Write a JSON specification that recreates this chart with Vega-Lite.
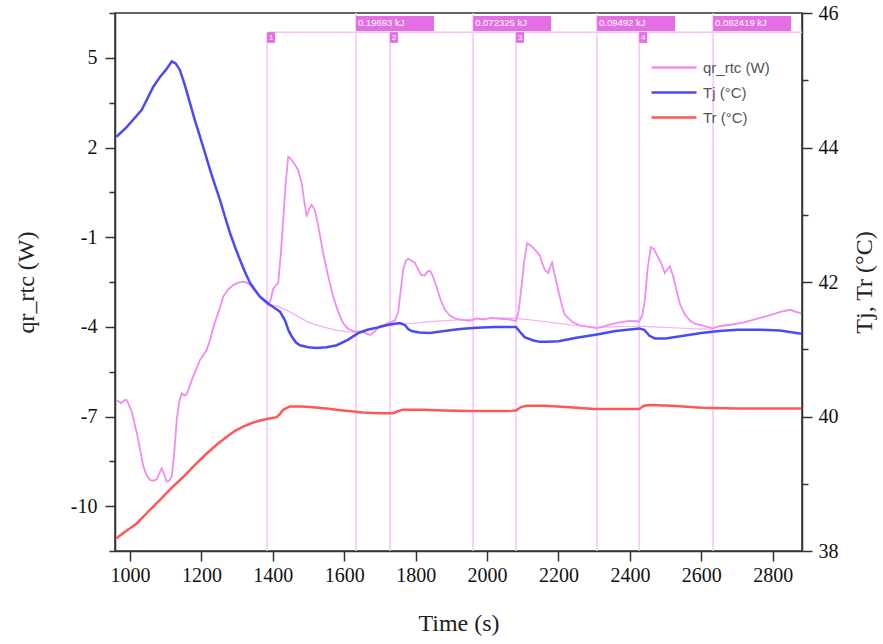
{
  "$schema": "https://vega.github.io/schema/vega-lite/v6.json",
  "width": 687,
  "height": 538,
  "autosize": {"type": "none"},
  "padding": {"left": 115, "top": 13, "right": 81, "bottom": 93},
  "background": "white",
  "config": {
    "view": {"stroke": "#333", "strokeWidth": 1.5},
    "axis": {
      "grid": false,
      "domainColor": "#333",
      "domainWidth": 1.5,
      "tickColor": "#333",
      "tickWidth": 1.5,
      "labelFont": "Liberation Serif",
      "labelFontSize": 20,
      "labelColor": "#111",
      "titleFont": "Liberation Serif",
      "titleFontWeight": "normal",
      "titleFontSize": 24,
      "titleColor": "#222"
    }
  },
  "datasets": {
    "qr": [
      {"t": 962, "v": -6.45, "s": "qr_rtc (W)"}, {"t": 975, "v": -6.55, "s": "qr_rtc (W)"}, {"t": 985, "v": -6.45, "s": "qr_rtc (W)"},
      {"t": 991, "v": -6.45, "s": "qr_rtc (W)"}, {"t": 1000, "v": -6.7, "s": "qr_rtc (W)"}, {"t": 1005, "v": -6.85, "s": "qr_rtc (W)"},
      {"t": 1012, "v": -7.2, "s": "qr_rtc (W)"}, {"t": 1019, "v": -7.55, "s": "qr_rtc (W)"}, {"t": 1028, "v": -8.1, "s": "qr_rtc (W)"},
      {"t": 1037, "v": -8.65, "s": "qr_rtc (W)"}, {"t": 1046, "v": -8.95, "s": "qr_rtc (W)"}, {"t": 1056, "v": -9.12, "s": "qr_rtc (W)"},
      {"t": 1066, "v": -9.15, "s": "qr_rtc (W)"}, {"t": 1075, "v": -9.1, "s": "qr_rtc (W)"}, {"t": 1082, "v": -8.9, "s": "qr_rtc (W)"},
      {"t": 1089, "v": -8.73, "s": "qr_rtc (W)"}, {"t": 1096, "v": -8.95, "s": "qr_rtc (W)"}, {"t": 1103, "v": -9.18, "s": "qr_rtc (W)"},
      {"t": 1110, "v": -9.15, "s": "qr_rtc (W)"}, {"t": 1117, "v": -9.0, "s": "qr_rtc (W)"}, {"t": 1124, "v": -8.2, "s": "qr_rtc (W)"},
      {"t": 1131, "v": -7.1, "s": "qr_rtc (W)"}, {"t": 1138, "v": -6.5, "s": "qr_rtc (W)"}, {"t": 1145, "v": -6.22, "s": "qr_rtc (W)"},
      {"t": 1152, "v": -6.3, "s": "qr_rtc (W)"}, {"t": 1159, "v": -6.25, "s": "qr_rtc (W)"}, {"t": 1168, "v": -5.95, "s": "qr_rtc (W)"},
      {"t": 1177, "v": -5.66, "s": "qr_rtc (W)"}, {"t": 1186, "v": -5.4, "s": "qr_rtc (W)"}, {"t": 1196, "v": -5.11, "s": "qr_rtc (W)"},
      {"t": 1205, "v": -4.95, "s": "qr_rtc (W)"}, {"t": 1215, "v": -4.77, "s": "qr_rtc (W)"}, {"t": 1225, "v": -4.4, "s": "qr_rtc (W)"},
      {"t": 1234, "v": -3.99, "s": "qr_rtc (W)"}, {"t": 1248, "v": -3.5, "s": "qr_rtc (W)"}, {"t": 1261, "v": -2.99, "s": "qr_rtc (W)"},
      {"t": 1275, "v": -2.75, "s": "qr_rtc (W)"}, {"t": 1289, "v": -2.6, "s": "qr_rtc (W)"}, {"t": 1303, "v": -2.52, "s": "qr_rtc (W)"},
      {"t": 1317, "v": -2.49, "s": "qr_rtc (W)"}, {"t": 1327, "v": -2.52, "s": "qr_rtc (W)"}, {"t": 1336, "v": -2.6, "s": "qr_rtc (W)"},
      {"t": 1350, "v": -2.8, "s": "qr_rtc (W)"}, {"t": 1364, "v": -2.99, "s": "qr_rtc (W)"}, {"t": 1376, "v": -3.15, "s": "qr_rtc (W)"},
      {"t": 1387, "v": -3.27, "s": "qr_rtc (W)"}, {"t": 1395, "v": -3.05, "s": "qr_rtc (W)"}, {"t": 1401, "v": -2.72, "s": "qr_rtc (W)"},
      {"t": 1408, "v": -2.62, "s": "qr_rtc (W)"}, {"t": 1415, "v": -2.54, "s": "qr_rtc (W)"}, {"t": 1422, "v": -1.6, "s": "qr_rtc (W)"},
      {"t": 1429, "v": -0.42, "s": "qr_rtc (W)"}, {"t": 1436, "v": 0.8, "s": "qr_rtc (W)"}, {"t": 1443, "v": 1.69, "s": "qr_rtc (W)"},
      {"t": 1448, "v": 1.65, "s": "qr_rtc (W)"}, {"t": 1453, "v": 1.58, "s": "qr_rtc (W)"}, {"t": 1462, "v": 1.42, "s": "qr_rtc (W)"},
      {"t": 1471, "v": 1.25, "s": "qr_rtc (W)"}, {"t": 1481, "v": 0.8, "s": "qr_rtc (W)"}, {"t": 1488, "v": 0.2, "s": "qr_rtc (W)"},
      {"t": 1495, "v": -0.31, "s": "qr_rtc (W)"}, {"t": 1502, "v": -0.05, "s": "qr_rtc (W)"}, {"t": 1509, "v": 0.08, "s": "qr_rtc (W)"},
      {"t": 1518, "v": -0.09, "s": "qr_rtc (W)"}, {"t": 1530, "v": -0.8, "s": "qr_rtc (W)"}, {"t": 1541, "v": -1.54, "s": "qr_rtc (W)"},
      {"t": 1555, "v": -2.3, "s": "qr_rtc (W)"}, {"t": 1569, "v": -2.99, "s": "qr_rtc (W)"}, {"t": 1583, "v": -3.5, "s": "qr_rtc (W)"},
      {"t": 1597, "v": -3.88, "s": "qr_rtc (W)"}, {"t": 1612, "v": -4.08, "s": "qr_rtc (W)"}, {"t": 1630, "v": -4.16, "s": "qr_rtc (W)"},
      {"t": 1645, "v": -4.15, "s": "qr_rtc (W)"}, {"t": 1658, "v": -4.2, "s": "qr_rtc (W)"}, {"t": 1672, "v": -4.27, "s": "qr_rtc (W)"},
      {"t": 1686, "v": -4.15, "s": "qr_rtc (W)"}, {"t": 1700, "v": -3.97, "s": "qr_rtc (W)"}, {"t": 1720, "v": -3.9, "s": "qr_rtc (W)"},
      {"t": 1742, "v": -3.78, "s": "qr_rtc (W)"}, {"t": 1751, "v": -3.5, "s": "qr_rtc (W)"}, {"t": 1758, "v": -2.8, "s": "qr_rtc (W)"},
      {"t": 1765, "v": -2.1, "s": "qr_rtc (W)"}, {"t": 1772, "v": -1.8, "s": "qr_rtc (W)"}, {"t": 1779, "v": -1.72, "s": "qr_rtc (W)"},
      {"t": 1790, "v": -1.8, "s": "qr_rtc (W)"}, {"t": 1798, "v": -1.86, "s": "qr_rtc (W)"}, {"t": 1808, "v": -2.1, "s": "qr_rtc (W)"},
      {"t": 1815, "v": -2.26, "s": "qr_rtc (W)"}, {"t": 1826, "v": -2.28, "s": "qr_rtc (W)"}, {"t": 1833, "v": -2.15, "s": "qr_rtc (W)"},
      {"t": 1840, "v": -2.12, "s": "qr_rtc (W)"}, {"t": 1848, "v": -2.3, "s": "qr_rtc (W)"}, {"t": 1857, "v": -2.6, "s": "qr_rtc (W)"},
      {"t": 1870, "v": -3.1, "s": "qr_rtc (W)"}, {"t": 1882, "v": -3.43, "s": "qr_rtc (W)"}, {"t": 1896, "v": -3.62, "s": "qr_rtc (W)"},
      {"t": 1910, "v": -3.72, "s": "qr_rtc (W)"}, {"t": 1930, "v": -3.77, "s": "qr_rtc (W)"}, {"t": 1952, "v": -3.8, "s": "qr_rtc (W)"},
      {"t": 1970, "v": -3.72, "s": "qr_rtc (W)"}, {"t": 1990, "v": -3.76, "s": "qr_rtc (W)"}, {"t": 2010, "v": -3.7, "s": "qr_rtc (W)"},
      {"t": 2036, "v": -3.73, "s": "qr_rtc (W)"}, {"t": 2060, "v": -3.75, "s": "qr_rtc (W)"}, {"t": 2081, "v": -3.8, "s": "qr_rtc (W)"},
      {"t": 2088, "v": -3.5, "s": "qr_rtc (W)"}, {"t": 2095, "v": -2.8, "s": "qr_rtc (W)"}, {"t": 2104, "v": -1.8, "s": "qr_rtc (W)"},
      {"t": 2112, "v": -1.2, "s": "qr_rtc (W)"}, {"t": 2120, "v": -1.26, "s": "qr_rtc (W)"}, {"t": 2129, "v": -1.36, "s": "qr_rtc (W)"},
      {"t": 2140, "v": -1.5, "s": "qr_rtc (W)"}, {"t": 2148, "v": -1.62, "s": "qr_rtc (W)"}, {"t": 2155, "v": -1.9, "s": "qr_rtc (W)"},
      {"t": 2162, "v": -2.1, "s": "qr_rtc (W)"}, {"t": 2171, "v": -2.2, "s": "qr_rtc (W)"}, {"t": 2178, "v": -1.95, "s": "qr_rtc (W)"},
      {"t": 2182, "v": -1.85, "s": "qr_rtc (W)"}, {"t": 2190, "v": -2.3, "s": "qr_rtc (W)"}, {"t": 2199, "v": -2.76, "s": "qr_rtc (W)"},
      {"t": 2210, "v": -3.3, "s": "qr_rtc (W)"}, {"t": 2218, "v": -3.6, "s": "qr_rtc (W)"}, {"t": 2240, "v": -3.85, "s": "qr_rtc (W)"},
      {"t": 2260, "v": -3.95, "s": "qr_rtc (W)"}, {"t": 2285, "v": -4.0, "s": "qr_rtc (W)"}, {"t": 2308, "v": -4.04, "s": "qr_rtc (W)"},
      {"t": 2330, "v": -3.98, "s": "qr_rtc (W)"}, {"t": 2344, "v": -3.93, "s": "qr_rtc (W)"}, {"t": 2370, "v": -3.85, "s": "qr_rtc (W)"},
      {"t": 2400, "v": -3.8, "s": "qr_rtc (W)"}, {"t": 2426, "v": -3.82, "s": "qr_rtc (W)"}, {"t": 2435, "v": -3.6, "s": "qr_rtc (W)"},
      {"t": 2442, "v": -3.1, "s": "qr_rtc (W)"}, {"t": 2450, "v": -2.0, "s": "qr_rtc (W)"}, {"t": 2459, "v": -1.33, "s": "qr_rtc (W)"},
      {"t": 2467, "v": -1.4, "s": "qr_rtc (W)"}, {"t": 2476, "v": -1.6, "s": "qr_rtc (W)"}, {"t": 2487, "v": -1.85, "s": "qr_rtc (W)"},
      {"t": 2498, "v": -2.2, "s": "qr_rtc (W)"}, {"t": 2506, "v": -2.05, "s": "qr_rtc (W)"}, {"t": 2512, "v": -1.98, "s": "qr_rtc (W)"},
      {"t": 2521, "v": -2.3, "s": "qr_rtc (W)"}, {"t": 2531, "v": -2.8, "s": "qr_rtc (W)"}, {"t": 2541, "v": -3.27, "s": "qr_rtc (W)"},
      {"t": 2555, "v": -3.6, "s": "qr_rtc (W)"}, {"t": 2569, "v": -3.8, "s": "qr_rtc (W)"}, {"t": 2583, "v": -3.9, "s": "qr_rtc (W)"},
      {"t": 2597, "v": -3.93, "s": "qr_rtc (W)"}, {"t": 2615, "v": -4.0, "s": "qr_rtc (W)"}, {"t": 2633, "v": -4.05, "s": "qr_rtc (W)"},
      {"t": 2650, "v": -3.98, "s": "qr_rtc (W)"}, {"t": 2681, "v": -3.93, "s": "qr_rtc (W)"}, {"t": 2720, "v": -3.85, "s": "qr_rtc (W)"},
      {"t": 2765, "v": -3.7, "s": "qr_rtc (W)"}, {"t": 2800, "v": -3.58, "s": "qr_rtc (W)"}, {"t": 2821, "v": -3.5, "s": "qr_rtc (W)"},
      {"t": 2849, "v": -3.43, "s": "qr_rtc (W)"}, {"t": 2865, "v": -3.5, "s": "qr_rtc (W)"}, {"t": 2880, "v": -3.55, "s": "qr_rtc (W)"}
    ],
    "baseline": [
      {"t": 1384, "v": -3.25}, {"t": 1410, "v": -3.3}, {"t": 1440, "v": -3.45}, {"t": 1470, "v": -3.65},
      {"t": 1500, "v": -3.85}, {"t": 1540, "v": -4.0}, {"t": 1580, "v": -4.12}, {"t": 1610, "v": -4.17},
      {"t": 1633, "v": -4.18}, {"t": 1660, "v": -4.12}, {"t": 1700, "v": -4.0}, {"t": 1742, "v": -3.93},
      {"t": 1790, "v": -3.88}, {"t": 1850, "v": -3.82}, {"t": 1924, "v": -3.77}, {"t": 1980, "v": -3.73},
      {"t": 2040, "v": -3.7}, {"t": 2081, "v": -3.72}, {"t": 2130, "v": -3.78}, {"t": 2180, "v": -3.85},
      {"t": 2230, "v": -3.93}, {"t": 2270, "v": -3.98}, {"t": 2308, "v": -4.02}, {"t": 2350, "v": -4.0},
      {"t": 2400, "v": -3.98}, {"t": 2426, "v": -3.98}, {"t": 2470, "v": -4.0}, {"t": 2520, "v": -4.03},
      {"t": 2570, "v": -4.06}, {"t": 2633, "v": -4.08}
    ],
    "temps": [
      {"t": 962, "T": 44.16, "s": "Tj (°C)"}, {"t": 990, "T": 44.3, "s": "Tj (°C)"}, {"t": 1010, "T": 44.42, "s": "Tj (°C)"},
      {"t": 1033, "T": 44.56, "s": "Tj (°C)"}, {"t": 1047, "T": 44.71, "s": "Tj (°C)"}, {"t": 1065, "T": 44.9, "s": "Tj (°C)"},
      {"t": 1084, "T": 45.05, "s": "Tj (°C)"}, {"t": 1100, "T": 45.15, "s": "Tj (°C)"}, {"t": 1117, "T": 45.28, "s": "Tj (°C)"},
      {"t": 1128, "T": 45.25, "s": "Tj (°C)"}, {"t": 1140, "T": 45.15, "s": "Tj (°C)"}, {"t": 1154, "T": 44.92, "s": "Tj (°C)"},
      {"t": 1168, "T": 44.66, "s": "Tj (°C)"}, {"t": 1182, "T": 44.4, "s": "Tj (°C)"}, {"t": 1196, "T": 44.16, "s": "Tj (°C)"},
      {"t": 1210, "T": 43.92, "s": "Tj (°C)"}, {"t": 1224, "T": 43.67, "s": "Tj (°C)"}, {"t": 1238, "T": 43.44, "s": "Tj (°C)"},
      {"t": 1252, "T": 43.22, "s": "Tj (°C)"}, {"t": 1266, "T": 42.97, "s": "Tj (°C)"}, {"t": 1280, "T": 42.73, "s": "Tj (°C)"},
      {"t": 1294, "T": 42.52, "s": "Tj (°C)"}, {"t": 1308, "T": 42.33, "s": "Tj (°C)"}, {"t": 1322, "T": 42.15, "s": "Tj (°C)"},
      {"t": 1336, "T": 41.99, "s": "Tj (°C)"}, {"t": 1350, "T": 41.88, "s": "Tj (°C)"}, {"t": 1364, "T": 41.78, "s": "Tj (°C)"},
      {"t": 1378, "T": 41.72, "s": "Tj (°C)"}, {"t": 1392, "T": 41.66, "s": "Tj (°C)"}, {"t": 1406, "T": 41.61, "s": "Tj (°C)"},
      {"t": 1420, "T": 41.56, "s": "Tj (°C)"}, {"t": 1434, "T": 41.43, "s": "Tj (°C)"}, {"t": 1444, "T": 41.28, "s": "Tj (°C)"},
      {"t": 1453, "T": 41.19, "s": "Tj (°C)"}, {"t": 1465, "T": 41.1, "s": "Tj (°C)"}, {"t": 1476, "T": 41.06, "s": "Tj (°C)"},
      {"t": 1500, "T": 41.03, "s": "Tj (°C)"}, {"t": 1523, "T": 41.02, "s": "Tj (°C)"}, {"t": 1550, "T": 41.03, "s": "Tj (°C)"},
      {"t": 1579, "T": 41.06, "s": "Tj (°C)"}, {"t": 1610, "T": 41.14, "s": "Tj (°C)"}, {"t": 1639, "T": 41.24, "s": "Tj (°C)"},
      {"t": 1665, "T": 41.29, "s": "Tj (°C)"}, {"t": 1691, "T": 41.32, "s": "Tj (°C)"}, {"t": 1720, "T": 41.36, "s": "Tj (°C)"},
      {"t": 1740, "T": 41.38, "s": "Tj (°C)"}, {"t": 1756, "T": 41.39, "s": "Tj (°C)"}, {"t": 1770, "T": 41.36, "s": "Tj (°C)"},
      {"t": 1779, "T": 41.3, "s": "Tj (°C)"}, {"t": 1789, "T": 41.27, "s": "Tj (°C)"}, {"t": 1810, "T": 41.25, "s": "Tj (°C)"},
      {"t": 1840, "T": 41.24, "s": "Tj (°C)"}, {"t": 1880, "T": 41.27, "s": "Tj (°C)"}, {"t": 1924, "T": 41.3, "s": "Tj (°C)"},
      {"t": 1970, "T": 41.32, "s": "Tj (°C)"}, {"t": 2020, "T": 41.33, "s": "Tj (°C)"}, {"t": 2060, "T": 41.33, "s": "Tj (°C)"},
      {"t": 2081, "T": 41.33, "s": "Tj (°C)"}, {"t": 2092, "T": 41.26, "s": "Tj (°C)"}, {"t": 2105, "T": 41.18, "s": "Tj (°C)"},
      {"t": 2130, "T": 41.13, "s": "Tj (°C)"}, {"t": 2148, "T": 41.11, "s": "Tj (°C)"}, {"t": 2170, "T": 41.11, "s": "Tj (°C)"},
      {"t": 2200, "T": 41.12, "s": "Tj (°C)"}, {"t": 2250, "T": 41.17, "s": "Tj (°C)"}, {"t": 2308, "T": 41.22, "s": "Tj (°C)"},
      {"t": 2360, "T": 41.27, "s": "Tj (°C)"}, {"t": 2426, "T": 41.31, "s": "Tj (°C)"}, {"t": 2440, "T": 41.29, "s": "Tj (°C)"},
      {"t": 2455, "T": 41.2, "s": "Tj (°C)"}, {"t": 2470, "T": 41.16, "s": "Tj (°C)"}, {"t": 2500, "T": 41.16, "s": "Tj (°C)"},
      {"t": 2550, "T": 41.2, "s": "Tj (°C)"}, {"t": 2600, "T": 41.24, "s": "Tj (°C)"}, {"t": 2650, "T": 41.27, "s": "Tj (°C)"},
      {"t": 2700, "T": 41.29, "s": "Tj (°C)"}, {"t": 2765, "T": 41.29, "s": "Tj (°C)"}, {"t": 2820, "T": 41.28, "s": "Tj (°C)"},
      {"t": 2880, "T": 41.23, "s": "Tj (°C)"},
      {"t": 962, "T": 38.19, "s": "Tr (°C)"}, {"t": 990, "T": 38.3, "s": "Tr (°C)"}, {"t": 1019, "T": 38.41, "s": "Tr (°C)"},
      {"t": 1050, "T": 38.58, "s": "Tr (°C)"}, {"t": 1084, "T": 38.76, "s": "Tr (°C)"}, {"t": 1115, "T": 38.93, "s": "Tr (°C)"},
      {"t": 1149, "T": 39.1, "s": "Tr (°C)"}, {"t": 1182, "T": 39.28, "s": "Tr (°C)"}, {"t": 1215, "T": 39.45, "s": "Tr (°C)"},
      {"t": 1245, "T": 39.59, "s": "Tr (°C)"}, {"t": 1271, "T": 39.7, "s": "Tr (°C)"}, {"t": 1295, "T": 39.79, "s": "Tr (°C)"},
      {"t": 1317, "T": 39.85, "s": "Tr (°C)"}, {"t": 1340, "T": 39.9, "s": "Tr (°C)"}, {"t": 1364, "T": 39.94, "s": "Tr (°C)"},
      {"t": 1390, "T": 39.97, "s": "Tr (°C)"}, {"t": 1411, "T": 39.99, "s": "Tr (°C)"}, {"t": 1420, "T": 40.04, "s": "Tr (°C)"},
      {"t": 1429, "T": 40.1, "s": "Tr (°C)"}, {"t": 1448, "T": 40.15, "s": "Tr (°C)"}, {"t": 1480, "T": 40.15, "s": "Tr (°C)"},
      {"t": 1504, "T": 40.14, "s": "Tr (°C)"}, {"t": 1550, "T": 40.12, "s": "Tr (°C)"}, {"t": 1597, "T": 40.09, "s": "Tr (°C)"},
      {"t": 1653, "T": 40.06, "s": "Tr (°C)"}, {"t": 1700, "T": 40.05, "s": "Tr (°C)"}, {"t": 1738, "T": 40.05, "s": "Tr (°C)"},
      {"t": 1750, "T": 40.08, "s": "Tr (°C)"}, {"t": 1765, "T": 40.1, "s": "Tr (°C)"}, {"t": 1820, "T": 40.1, "s": "Tr (°C)"},
      {"t": 1877, "T": 40.09, "s": "Tr (°C)"}, {"t": 1950, "T": 40.08, "s": "Tr (°C)"}, {"t": 2000, "T": 40.08, "s": "Tr (°C)"},
      {"t": 2060, "T": 40.08, "s": "Tr (°C)"}, {"t": 2081, "T": 40.09, "s": "Tr (°C)"}, {"t": 2095, "T": 40.14, "s": "Tr (°C)"},
      {"t": 2110, "T": 40.16, "s": "Tr (°C)"}, {"t": 2160, "T": 40.16, "s": "Tr (°C)"}, {"t": 2220, "T": 40.14, "s": "Tr (°C)"},
      {"t": 2300, "T": 40.11, "s": "Tr (°C)"}, {"t": 2380, "T": 40.11, "s": "Tr (°C)"}, {"t": 2426, "T": 40.11, "s": "Tr (°C)"},
      {"t": 2440, "T": 40.16, "s": "Tr (°C)"}, {"t": 2455, "T": 40.17, "s": "Tr (°C)"}, {"t": 2520, "T": 40.16, "s": "Tr (°C)"},
      {"t": 2600, "T": 40.13, "s": "Tr (°C)"}, {"t": 2700, "T": 40.12, "s": "Tr (°C)"}, {"t": 2800, "T": 40.12, "s": "Tr (°C)"},
      {"t": 2880, "T": 40.12, "s": "Tr (°C)"}
    ],
    "intervals": [
      {"n": "1", "start": 1384, "end": 1633, "kj": "0.19693 kJ"},
      {"n": "2", "start": 1728, "end": 1961, "kj": "0.072325 kJ"},
      {"n": "3", "start": 2081, "end": 2308, "kj": "0.09492 kJ"},
      {"n": "4", "start": 2426, "end": 2633, "kj": "0.082419 kJ"}
    ]
  },
  "layer": [
    {
      "layer": [
        {
          "data": {"name": "intervals"},
          "mark": {"type": "rule", "color": "#f6c4f6", "strokeWidth": 1.5},
          "encoding": {
            "x": {"field": "start", "type": "quantitative", "scale": {"domain": [958, 2882], "nice": false, "zero": false}},
            "y": {"datum": 5.86, "type": "quantitative"},
            "y2": {"datum": -11.5}
          }
        },
        {
          "data": {"name": "intervals"},
          "mark": {"type": "rule", "color": "#f6c4f6", "strokeWidth": 1.5},
          "encoding": {
            "x": {"field": "end", "type": "quantitative"}
          }
        },
        {
          "data": {"name": "intervals"},
          "transform": [{"aggregate": [{"op": "min", "field": "start", "as": "first"}]}],
          "mark": {"type": "rule", "color": "#f6c4f6", "strokeWidth": 1.5},
          "encoding": {
            "x": {"field": "first", "type": "quantitative"},
            "x2": {"datum": 2882},
            "y": {"datum": 5.86, "type": "quantitative"}
          }
        },
        {
          "data": {"name": "baseline"},
          "mark": {"type": "line", "color": "#f2b0f2", "strokeWidth": 1.2},
          "encoding": {
            "x": {"field": "t", "type": "quantitative"},
            "y": {"field": "v", "type": "quantitative"}
          }
        },
        {
          "data": {"name": "qr"},
          "mark": {"type": "line", "strokeWidth": 1.8},
          "encoding": {
            "x": {
              "field": "t", "type": "quantitative",
              "scale": {"domain": [958, 2882], "nice": false, "zero": false},
              "axis": {
                "title": "Time (s)",
                "values": [1000, 1100, 1200, 1300, 1400, 1500, 1600, 1700, 1800, 1900, 2000, 2100, 2200, 2300, 2400, 2500, 2600, 2700, 2800],
                "labelExpr": "datum.value % 200 === 0 ? '' + datum.value : ''",
                "tickSize": {"condition": {"test": "datum.value % 200 === 0", "value": 10}, "value": 6},
                "labelPadding": 4,
                "titlePadding": 26
              }
            },
            "y": {
              "field": "v", "type": "quantitative",
              "scale": {"domain": [-11.5, 6.5], "nice": false, "zero": false},
              "axis": {
                "title": "qr_rtc (W)",
                "values": [-11.5, -10, -8.5, -7, -5.5, -4, -2.5, -1, 0.5, 2, 3.5, 5, 6.5],
                "labelExpr": "(datum.value + 10) % 3 === 0 ? '' + datum.value : ''",
                "tickSize": {"condition": {"test": "(datum.value + 10) % 3 === 0", "value": 10}, "value": 6},
                "labelPadding": 8,
                "titlePadding": 32
              }
            },
            "color": {
              "field": "s", "type": "nominal",
              "scale": {"domain": ["qr_rtc (W)", "Tj (°C)", "Tr (°C)"], "range": ["#f08cf0", "#4b4bf5", "#ff5858"]},
              "legend": {
                "orient": "none", "legendX": 535, "legendY": 46, "title": null,
                "symbolType": "stroke", "symbolSize": 2025, "symbolStrokeWidth": 2.5, "clipHeight": 17,
                "labelFont": "Liberation Sans", "labelFontSize": 15, "labelColor": "#555",
                "labelOffset": 5, "rowPadding": 8
              }
            }
          }
        },
        {
          "data": {"name": "intervals"},
          "mark": {"type": "rect", "color": "#e46ee4", "x2Offset": 8},
          "encoding": {
            "x": {"field": "start", "type": "quantitative"},
            "x2": {"field": "start"},
            "y": {"datum": 5.86, "type": "quantitative"},
            "y2": {"datum": 5.5}
          }
        },
        {
          "data": {"name": "intervals"},
          "mark": {"type": "text", "color": "white", "font": "Liberation Sans", "fontSize": 8, "align": "center", "baseline": "middle", "dx": 4},
          "encoding": {
            "x": {"field": "start", "type": "quantitative"},
            "y": {"datum": 5.68, "type": "quantitative"},
            "text": {"field": "n"}
          }
        },
        {
          "data": {"name": "intervals"},
          "mark": {"type": "rect", "color": "#e46ee4", "x2Offset": 78},
          "encoding": {
            "x": {"field": "end", "type": "quantitative"},
            "x2": {"field": "end"},
            "y": {"datum": 6.4, "type": "quantitative"},
            "y2": {"datum": 5.9}
          }
        },
        {
          "data": {"name": "intervals"},
          "mark": {"type": "text", "color": "white", "font": "Liberation Sans", "fontSize": 9.5, "align": "left", "baseline": "middle", "dx": 2},
          "encoding": {
            "x": {"field": "end", "type": "quantitative"},
            "y": {"datum": 6.15, "type": "quantitative"},
            "text": {"field": "kj"}
          }
        }
      ]
    },
    {
      "data": {"name": "temps"},
      "mark": {"type": "line", "strokeWidth": 2.5},
      "encoding": {
        "x": {"field": "t", "type": "quantitative"},
        "y": {
          "field": "T", "type": "quantitative",
          "scale": {"domain": [38, 46], "nice": false, "zero": false},
          "axis": {
            "orient": "right",
            "title": "Tj, Tr (°C)",
            "titleAngle": 270,
            "values": [38, 39, 40, 41, 42, 43, 44, 45, 46],
            "labelExpr": "datum.value % 2 === 0 ? '' + datum.value : ''",
            "tickSize": {"condition": {"test": "datum.value % 2 === 0", "value": 10}, "value": 6},
            "labelPadding": 6,
            "titlePadding": 38
          }
        },
        "color": {
          "field": "s", "type": "nominal",
          "scale": {"domain": ["qr_rtc (W)", "Tj (°C)", "Tr (°C)"], "range": ["#f08cf0", "#4b4bf5", "#ff5858"]},
          "legend": {
            "orient": "none", "legendX": 535, "legendY": 46, "title": null,
            "symbolType": "stroke", "symbolSize": 2025, "symbolStrokeWidth": 2.5, "clipHeight": 17,
            "labelFont": "Liberation Sans", "labelFontSize": 15, "labelColor": "#555",
            "labelOffset": 5, "rowPadding": 8
          }
        }
      }
    }
  ],
  "resolve": {"scale": {"y": "independent"}}
}
